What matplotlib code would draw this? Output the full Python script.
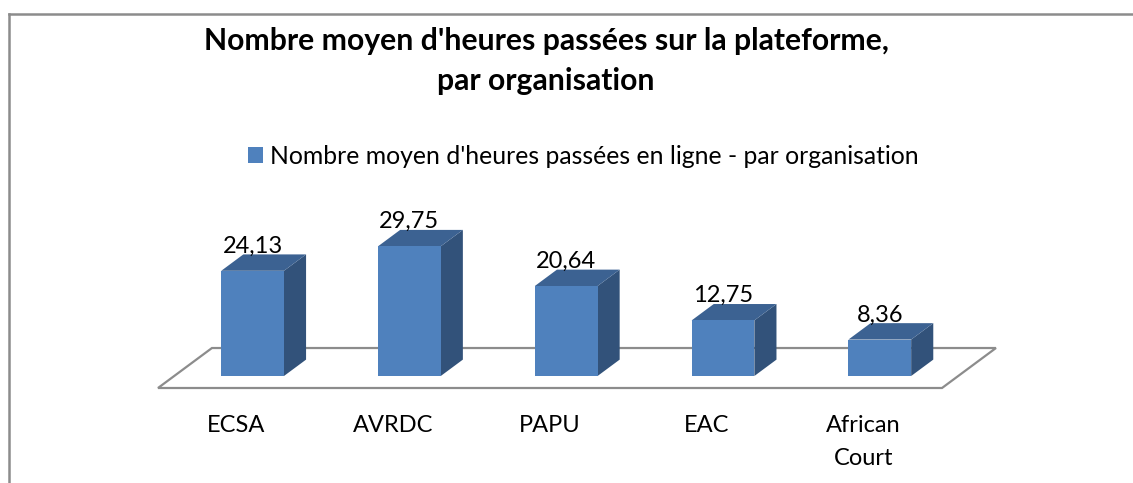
#!/usr/bin/env python3

import matplotlib.pyplot as plt
from matplotlib.patches import Polygon
from matplotlib.lines import Line2D

# Data
organisations = ["ECSA", "AVRDC", "PAPU", "EAC", "African\nCourt"]
heures = [24.13, 29.75, 20.64, 12.75, 8.36]
value_labels = ["24,13", "29,75", "20,64", "12,75", "8,36"]

TITLE_LINES = ["Nombre moyen d'heures passées sur la plateforme,", "par organisation"]
SERIES = "Nombre moyen d'heures passées en ligne - par organisation"

OUT_FILE = "out.png"

# Colours of the Excel-like 3D columns
FRONT = "#4F81BD"
TOP = "#3C6292"
SIDE = "#32527A"
GREY = "#8C8C8C"

# Oblique projection: one unit of depth moves x (categories) and y (values)
DEPTH_DX = 0.344
DEPTH_DY = 9.17
BAR_FRONT = 0.30   # depth of the bar front face inside the floor
BAR_DEPTH = 0.41
BAR_W = 0.40

FONT = "Lato"
LABEL_BASE = -12.84   # baseline of the first category label line
LABEL_STEP = 7.57     # line step, in value units


def project(x, y, d):
    """Point at floor position x, height y and depth d (floor front = 0)."""
    return x + d * DEPTH_DX, y + (d - BAR_FRONT) * DEPTH_DY


def draw_floor(ax, n):
    corners = [project(0, 0, 0), project(n, 0, 0), project(n, 0, 1), project(0, 0, 1)]
    ax.add_patch(Polygon(corners, closed=True, facecolor="white",
                         edgecolor=GREY, linewidth=1.6, zorder=1))


def draw_bars(ax, values):
    centers = [project(i + 0.5, 0, BAR_FRONT)[0] for i in range(len(values))]
    bars = ax.bar(centers, values, width=BAR_W, color=FRONT, zorder=4,
                  label=SERIES)

    dx, dy = BAR_DEPTH * DEPTH_DX, BAR_DEPTH * DEPTH_DY
    for xc, v in zip(centers, values):
        left, right = xc - BAR_W / 2, xc + BAR_W / 2
        top = [(left, v), (right, v), (right + dx, v + dy), (left + dx, v + dy)]
        side = [(right, 0), (right, v), (right + dx, v + dy), (right + dx, dy)]
        ax.add_patch(Polygon(side, closed=True, facecolor=SIDE, edgecolor="none", zorder=3))
        ax.add_patch(Polygon(top, closed=True, facecolor=TOP, edgecolor="none", zorder=3))

    return bars, centers


def main():
    fig = plt.figure(figsize=(11.33, 4.83), dpi=100)
    ax = fig.add_axes([0, 0, 1, 1])
    ax.axis("off")
    ax.set_xlim(-1.0077, 6.218)
    ax.set_ylim(-24.54, 86.24)

    draw_floor(ax, len(heures))
    bars, centers = draw_bars(ax, heures)

    # value labels above each column
    for xc, v, lab in zip(centers, heures, value_labels):
        ax.text(xc, v + BAR_DEPTH * DEPTH_DY + 0.4, lab, ha="center", va="baseline",
                fontsize=17, family=FONT, color="black", zorder=5)

    # category labels under the floor, wrapped like Excel does
    for i, org in enumerate(organisations):
        for k, line in enumerate(org.split("\n")):
            ax.text(i + 0.5, LABEL_BASE - k * LABEL_STEP, line, ha="center",
                    va="baseline", fontsize=17, family=FONT)

    # two-line bold title
    for line, base_px in zip(TITLE_LINES, [50, 90]):
        fig.text(0.482, 1 - base_px / 483, line, ha="center", va="baseline",
                 fontsize=21.7, family=FONT, fontweight="bold")

    ax.legend(handles=[bars], loc="center", bbox_to_anchor=(0.5146, 0.676),
              bbox_transform=fig.transFigure, frameon=False,
              prop={"family": FONT, "size": 17.8}, handlelength=0.6,
              handleheight=0.6, handletextpad=0.29)

    # chart area border (only top and left are visible in the crop)
    top_y = 1 - 13.5 / 483
    left_x = 8.5 / 1133
    fig.add_artist(Line2D([left_x, 1], [top_y, top_y], color=GREY, linewidth=1.8))
    fig.add_artist(Line2D([left_x, left_x], [0, top_y], color=GREY, linewidth=1.8))

    fig.savefig(OUT_FILE, dpi=100)


if __name__ == "__main__":
    main()
